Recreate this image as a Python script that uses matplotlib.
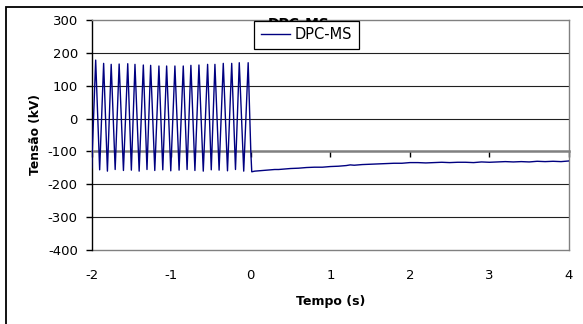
import numpy as np
import matplotlib
matplotlib.use("Agg")
import matplotlib.pyplot as plt
from matplotlib.patches import Rectangle

plt.rcParams['font.family'] = ['DejaVu Sans']

# oscillation before the event: peak times and values, troughs in between
peak_t = [-1.950, -1.850, -1.755, -1.655, -1.547, -1.456, -1.351, -1.259, -1.155, -1.058,
          -0.954, -0.849, -0.753, -0.652, -0.543, -0.451, -0.346, -0.240, -0.145, -0.033]
peak_v = [178, 168, 165, 166, 167, 165, 163, 162, 160, 160,
          160, 160, 162, 163, 165, 165, 168, 168, 170, 170]
trough_v = [-156, -160, -155, -158, -157, -160, -155, -158, -156, -159,
            -157, -155, -158, -160, -156, -157, -159, -155, -160]

# recovery after t = 0
rec_t = [0.0, 0.012, 0.05, 0.1, 0.2, 0.3, 0.35, 0.45, 0.5, 0.6, 0.7, 0.8, 0.9, 1.0,
         1.1, 1.2, 1.25, 1.3, 1.4, 1.5, 1.6, 1.7, 1.8, 1.9, 2.0, 2.1, 2.2, 2.3, 2.4,
         2.5, 2.6, 2.7, 2.8, 2.9, 3.0, 3.1, 3.2, 3.3, 3.4, 3.5, 3.6, 3.7, 3.8, 3.9, 4.0]
rec_v = [-100, -162, -160, -159, -157, -155, -155, -153, -152, -151, -149, -148, -148, -146,
         -145, -143, -141, -142, -140, -139, -138, -137, -136, -136, -134, -134, -135, -134, -133,
         -134, -133, -133, -134, -132, -133, -132, -131, -132, -131, -132, -130, -131, -130, -131, -129]

start_t, start_v = -2.0, -150

x_ticks = [-2, -1, 0, 1, 2, 3, 4]
y_ticks = [300, 200, 100, 0, -100, -200, -300, -400]

# build the series
t = [start_t]
v = [start_v]
for i in range(len(peak_t)):
    t.append(peak_t[i])
    v.append(peak_v[i])
    if i < len(trough_v):
        t.append((peak_t[i] + peak_t[i + 1]) / 2)
        v.append(trough_v[i])
t += rec_t
v += rec_v

fig = plt.figure(figsize=(5.83, 3.24), dpi=100)
W, H = 583, 324

# outer chart frame
fig.patches.append(Rectangle((6 / W, -0.2), 1.2, 1.2 - 7 / H, transform=fig.transFigure,
                             fill=False, edgecolor='black', linewidth=1.3))

ax = fig.add_axes([91.7 / W, 1 - 250 / H, (569 - 91.7) / W, 230 / H])
ax.set_xlim(-2, 4)
ax.set_ylim(-400, 300)

for yv in y_ticks:
    if yv in (300, -400, -100):
        continue
    ax.axhline(yv, color='#202020', linewidth=0.8, zorder=1)

line, = ax.plot(t, v, color='#000080', linewidth=1.0, label='DPC-MS', zorder=3)

for s in ['top', 'right']:
    ax.spines[s].set_color('#808080')
    ax.spines[s].set_linewidth(1.0)
ax.spines['left'].set_color('black')
ax.spines['left'].set_linewidth(1.0)

# horizontal axis crosses at -100
ax.spines['bottom'].set_position(('data', -100))
ax.spines['bottom'].set_color('#808080')
ax.spines['bottom'].set_linewidth(1.8)
ax.set_xticks(x_ticks)
ax.tick_params(axis='x', direction='out', length=4, width=1, color='black', labelbottom=False)

ax.set_yticks(y_ticks)
ax.set_yticklabels([str(y) for y in y_ticks])
ax.tick_params(axis='y', direction='out', length=4, width=1, color='black', labelsize=9.5, pad=6)

sec = ax.secondary_xaxis(0)
sec.set_xticks(x_ticks)
sec.set_xticklabels([str(x) for x in x_ticks])
sec.tick_params(length=0, labelsize=9.5, pad=14)
sec.spines['bottom'].set_color('#808080')
sec.spines['bottom'].set_linewidth(1.0)
sec.set_xlabel('Tempo (s)', fontsize=9, fontweight='bold', labelpad=9)

ax.set_ylabel('Tensão (kV)', fontsize=8.8, fontweight='bold', labelpad=4)

# title hidden behind the legend
ax.text(299 / W, 1 - 24 / H, 'DPC-MS', transform=fig.transFigure, ha='center', va='center',
        fontsize=10, fontweight='bold', zorder=5, clip_on=False)

leg = ax.legend(handles=[line], loc='upper left', bbox_to_anchor=(0.34, 0.997), borderaxespad=0,
                fontsize=10.5, frameon=True, fancybox=False, edgecolor='black', framealpha=1,
                handlelength=2.0, handletextpad=0.35, borderpad=0.45)
leg.get_frame().set_linewidth(0.9)
leg.set_zorder(10)

fig.savefig('out.png', dpi=100)
